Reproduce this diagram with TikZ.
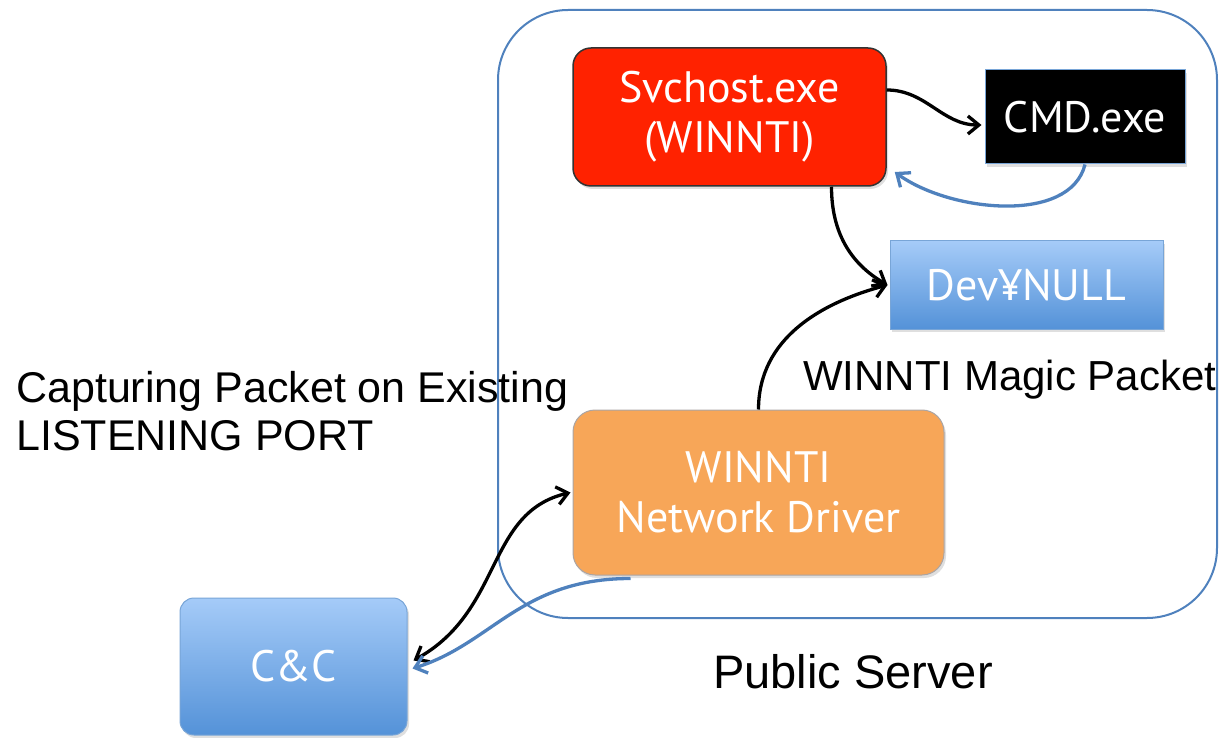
\documentclass[tikz,border=0pt]{standalone}
\usepackage{fontspec}
\setmainfont{Liberation Sans}
\newfontfamily\boxfont{PT Sans}
\usepackage{xcolor}
\usepackage{tikz}
\usetikzlibrary{arrows.meta,positioning,shadows}
\definecolor{wframe}{RGB}{79,129,189}
\definecolor{wred}{RGB}{255,34,0}
\definecolor{worange}{RGB}{247,166,88}
\definecolor{wblueT}{RGB}{165,203,248}
\definecolor{wblueB}{RGB}{84,146,216}
\definecolor{wedge}{RGB}{120,165,215}
\tikzset{
  boxtext/.style={text=white,align=center,inner sep=0pt,
                  font=\boxfont\fontsize{44}{50}\selectfont},
  shade/.style={drop shadow={shadow xshift=2pt,shadow yshift=-3pt,opacity=0.25}},
  procbox/.style={boxtext,shade,rectangle,rounded corners=18pt,fill=wred,
                  draw=black!80,line width=1.5pt},
  cmdbox/.style={boxtext,shade,rectangle,fill=black,draw=wedge,line width=1pt},
  bluebox/.style={boxtext,shade,rectangle,top color=wblueT,bottom color=wblueB,
                  draw=wedge,line width=1pt},
  drvbox/.style={boxtext,shade,rectangle,rounded corners=22pt,fill=worange,
                 draw=wedge!60!worange,line width=1pt},
  label/.style={inner sep=0pt,font=\fontsize{43}{48}\selectfont},
  flow/.style={-{Straight Barb[length=11pt,width=18pt]},line width=3.3pt,black},
  back/.style={-{Straight Barb[length=11pt,width=18pt]},line width=3.3pt,wframe},
  both/.style={{Straight Barb[length=11pt,width=18pt]}-{Straight Barb[length=11pt,width=18pt]},
               line width=3.3pt,black},
}
\begin{document}
\begin{tikzpicture}[x=1pt,y=1pt]
  \useasboundingbox (0,0) rectangle (1227,-738);
  % public server frame
  \draw[wframe,line width=2pt,rounded corners=70pt] (498,-10) rectangle (1217,-618);

  \node[procbox,minimum width=313pt,minimum height=138pt] (svc) at (729.5,-117)
     {Svchost.exe\\(WINNTI)};
  \node[cmdbox,minimum width=200pt,minimum height=94pt] (cmd) at (1085,-117) {CMD.exe};
  \node[bluebox,minimum width=273pt,minimum height=88pt] (dev) at (1026.5,-285) {Dev¥NULL};
  \node[drvbox,minimum width=371pt,minimum height=165pt] (drv) at (758.5,-492.5)
     {WINNTI\\Network Driver};
  \node[bluebox,rounded corners=14pt,minimum width=227pt,minimum height=137pt] (cc)
     at (293.5,-666.5) {C\&C};

  \node[label,anchor=north west,align=left] (listen) at (16,-371)
     {Capturing Packet on Existing\\LISTENING PORT};
  \node[label,anchor=west,font=\fontsize{42}{48}\selectfont] (magic) at (803,-380)
     {WINNTI Magic Packet};
  \node[label,font=\fontsize{47}{52}\selectfont] (server) at (853,-672) {Public Server};

  \draw[flow] ([yshift=27pt]svc.east) to[out=0,in=180] ([yshift=-8pt,xshift=-3pt]cmd.west);
  \draw[back] (cmd.south) .. controls +(-15,-60) and +(55,-40) .. ([xshift=8pt,yshift=-55pt]svc.east);
  \draw[flow] ([xshift=102pt]svc.south) to[out=-90,in=150] ([xshift=-2pt]dev.west);
  \draw[flow] (drv.north) to[out=90,in=195] ([xshift=-2pt]dev.west);
  \draw[both] ([xshift=6pt,yshift=6pt]cc.east) .. controls +(90,50) and +(-85,-20) .. ([xshift=-2pt]drv.west);
  \draw[back] ([xshift=-128pt,yshift=-3pt]drv.south) .. controls +(-110,0) and +(80,25) .. ([xshift=5pt,yshift=-2pt]cc.east);
\end{tikzpicture}
\end{document}
